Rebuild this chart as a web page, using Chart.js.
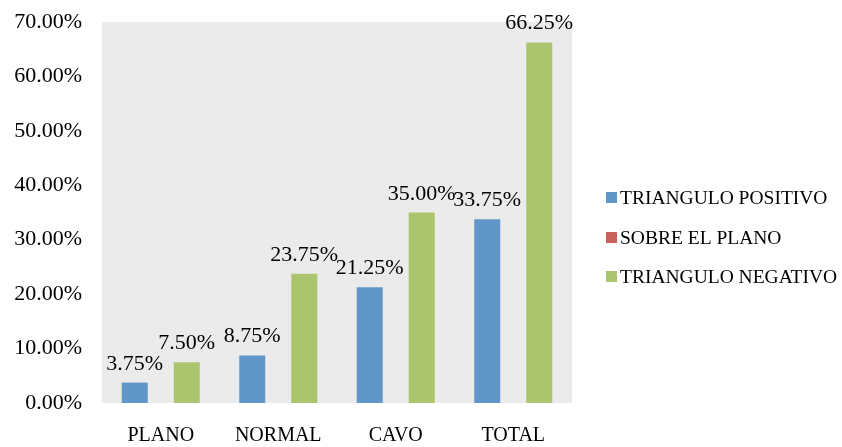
<!DOCTYPE html>
<html>
<head>
<meta charset="utf-8">
<script src="https://cdn.jsdelivr.net/npm/chart.js@4.4.0/dist/chart.umd.min.js"></script>
<style>
  html, body { margin: 0; padding: 0; background: #fff; }
  #wrap { width: 842px; height: 447px; }
</style>
</head>
<body>
<div id="wrap"><canvas id="footChart"></canvas></div>
<script>
const categories = ['PLANO', 'NORMAL', 'CAVO', 'TOTAL'];
const seriesNames = ['TRIANGULO POSITIVO', 'SOBRE EL PLANO', 'TRIANGULO NEGATIVO'];
const positivo = [3.75, 8.75, 21.25, 33.75];
const sobrePlano = [0, 0, 0, 0];
const negativo = [7.50, 23.75, 35.00, 66.25];
const yTicks = [0, 10, 20, 30, 40, 50, 60, 70];

const serif = 'Liberation Serif';

// gray plot background
const plotBackground = {
    id: 'plotBackground',
    beforeDraw(chart) {
        const { ctx, chartArea: a } = chart;
        ctx.save();
        ctx.fillStyle = '#ebebeb';
        ctx.fillRect(a.left, a.top, a.right - a.left, a.bottom - a.top);
        ctx.restore();
    }
};

// value labels above bars (zeros skipped)
const valueLabels = {
    id: 'valueLabels',
    afterDatasetsDraw(chart) {
        const ctx = chart.ctx;
        ctx.save();
        ctx.font = '22px "' + serif + '"';
        ctx.fillStyle = '#000';
        ctx.textAlign = 'center';
        ctx.textBaseline = 'alphabetic';
        chart.data.datasets.forEach((ds, i) => {
            const meta = chart.getDatasetMeta(i);
            meta.data.forEach((bar, j) => {
                const v = ds.data[j];
                if (!v) return;
                ctx.fillText(v.toFixed(2) + '%', bar.x, bar.y - 13);
            });
        });
        ctx.restore();
    }
};

// legend drawn in the right margin, square swatch + name
const sideLegend = {
    id: 'sideLegend',
    afterDraw(chart) {
        const ctx = chart.ctx;
        const x = 606, rowsY = [198, 238, 277];
        ctx.save();
        ctx.font = '19.5px "' + serif + '"';
        ctx.textBaseline = 'middle';
        chart.data.datasets.forEach((ds, i) => {
            const y = rowsY[i];
            ctx.fillStyle = ds.backgroundColor;
            ctx.fillRect(x, y - 6, 11, 11);
            ctx.fillStyle = '#000';
            ctx.fillText(ds.label, x + 14, y + 1);
        });
        ctx.restore();
    }
};

new Chart(document.getElementById('footChart').getContext('2d'), {
    type: 'bar',
    data: {
        labels: categories,
        datasets: [
            { label: seriesNames[0], data: positivo, backgroundColor: '#6097c8' },
            { label: seriesNames[1], data: sobrePlano, backgroundColor: '#c9615d' },
            { label: seriesNames[2], data: negativo, backgroundColor: '#abc46e' }
        ]
    },
    options: {
        responsive: true,
        maintainAspectRatio: false,
        animation: false,
        datasets: {
            bar: { categoryPercentage: 0.664, barPercentage: 1.0 }
        },
        layout: {
            padding: { top: 2, bottom: 0, left: 0, right: 270 }
        },
        plugins: {
            legend: { display: false },
            title: { display: false },
            tooltip: { enabled: false }
        },
        scales: {
            x: {
                afterFit(axis) {
                    axis.height = 44;
                },
                grid: { display: false },
                border: { display: false },
                ticks: {
                    color: '#000',
                    padding: 15,
                    font: { family: serif, size: 20, lineHeight: 1 }
                }
            },
            y: {
                min: 0,
                max: 70,
                afterBuildTicks(axis) {
                    axis.ticks = yTicks.map(v => ({ value: v }));
                },
                afterFit(axis) {
                    axis.width = 102;
                    axis.paddingTop = 22;
                },
                grid: { display: false },
                border: { display: false },
                ticks: {
                    color: '#000',
                    padding: 12,
                    font: { family: serif, size: 22 },
                    callback: v => v.toFixed(2) + '%'
                }
            }
        }
    },
    plugins: [plotBackground, valueLabels, sideLegend]
});
</script>
</body>
</html>
